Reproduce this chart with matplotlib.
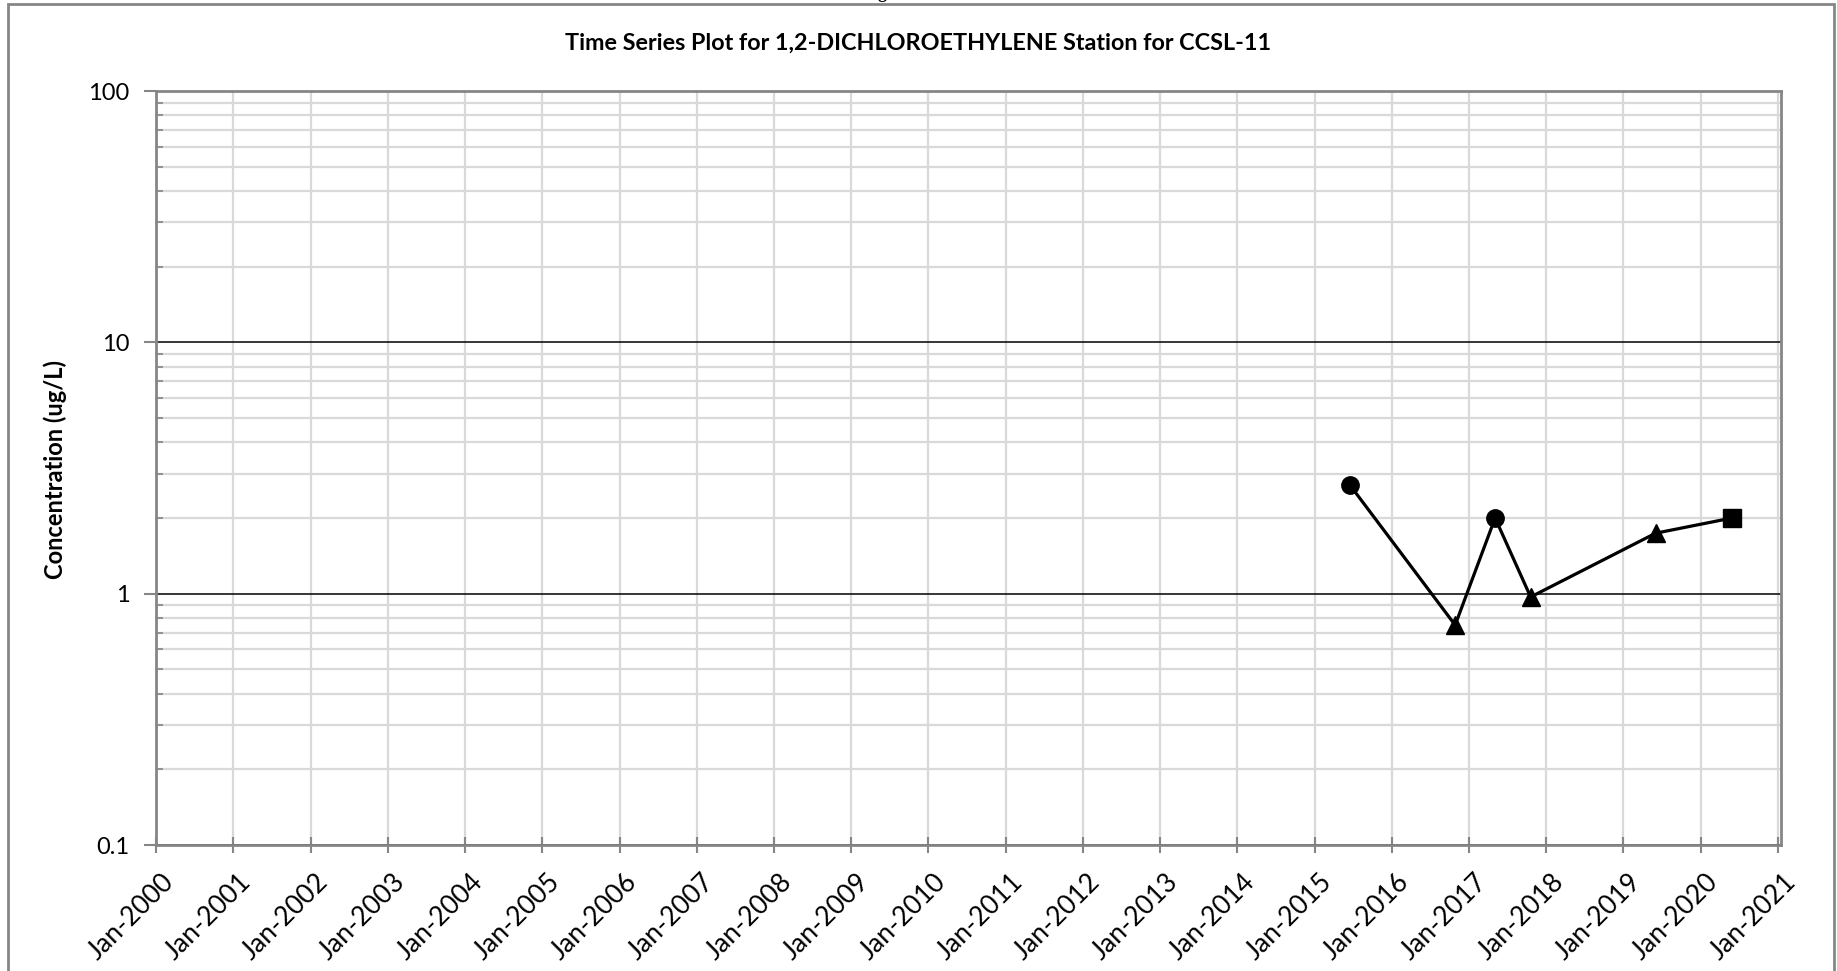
import matplotlib
matplotlib.use("Agg")
import matplotlib.pyplot as plt
import matplotlib.transforms as mtransforms
from matplotlib.ticker import LogLocator, FixedLocator, NullFormatter
from matplotlib.patches import Rectangle
import datetime as dt

# ---- data ----
title = "Time Series Plot for 1,2-DICHLOROETHYLENE Station for CCSL-11"
ylabel = "Concentration (ug/L)"
sample_dates = ["2015-06-18", "2016-10-27", "2017-05-04", "2017-10-19", "2019-06-02", "2020-05-28"]
concentrations = [2.70, 0.75, 2.0, 0.97, 1.74, 2.0]
point_kind = ["circle", "triangle", "circle", "triangle", "triangle", "square"]
year_ticks = list(range(2000, 2022))
y_ticks = [0.1, 1, 10, 100]
y_tick_labels = ["0.1", "1", "10", "100"]

marker_map = {"circle": "o", "triangle": "^", "square": "s"}

plt.rcParams["font.family"] = ["Lato", "DejaVu Sans"]

W, H = 1837, 971
fig = plt.figure(figsize=(W / 100, H / 100), dpi=100)
ax = fig.add_axes([156 / W, 1 - 845 / H, (1781 - 156) / W, (845 - 91) / H])

dates = [dt.datetime.strptime(d, "%Y-%m-%d") for d in sample_dates]
ax.plot(dates, concentrations, color="black", lw=2.3, zorder=4)
for d, v, k in zip(dates, concentrations, point_kind):
    ax.plot([d], [v], marker=marker_map[k], ms=12.5, color="black", ls="none", zorder=5)

ax.set_yscale("log")
ax.set_ylim(0.1, 100)
ax.set_xlim(dt.datetime(2000, 1, 1), dt.datetime(2021, 1, 15))

# x ticks
xt = [dt.datetime(y, 1, 1) for y in year_ticks]
ax.set_xticks(xt)
ax.tick_params(axis="x", which="major", direction="inout", length=11, width=1.5,
               color="#868686", pad=12, labelsize=19)
ax.set_xticklabels([f"Jan-{y}" for y in year_ticks], fontsize=19,
                   rotation=45, ha="right", va="top", rotation_mode="anchor")
shift = mtransforms.ScaledTranslation(5 / 100, 0, fig.dpi_scale_trans)
for lab in ax.get_xticklabels():
    lab.set_transform(lab.get_transform() + shift)

# y ticks
ax.yaxis.set_major_locator(FixedLocator(y_ticks))
ax.yaxis.set_minor_locator(LogLocator(base=10, subs=range(2, 10)))
ax.yaxis.set_minor_formatter(NullFormatter())
ax.tick_params(axis="y", which="major", direction="out", length=9, width=1.5,
               color="#868686", pad=10, labelsize=17)
ax.set_yticklabels(y_tick_labels, fontsize=17)
ax.tick_params(axis="y", which="minor", direction="in", length=5, width=1.2,
               color="#868686")

# grid
ax.grid(True, axis="x", which="major", color="#d9d9d9", lw=1.6, zorder=0)
ax.grid(True, axis="y", which="minor", color="#d9d9d9", lw=1.6, zorder=0)
ax.grid(True, axis="y", which="major", color="black", lw=1.1, zorder=1)
ax.set_axisbelow(True)

for s in ax.spines.values():
    s.set_color("#868686")
    s.set_linewidth(2.0)
    s.set_zorder(6)

fig.text(55 / W, 1 - 469 / H, ylabel, rotation=90, ha="center", va="center",
         fontsize=17, fontweight="bold")

fig.text(918 / W, 1 - 43 / H, title, ha="center", va="center",
         fontsize=16.8, fontweight="bold")

# partial cut-off text at the very top
fig.text(882 / W, 1 + 1.5 / H, "g", ha="center", va="baseline",
         fontsize=13, fontweight="bold", family="Liberation Serif")

# outer border
fig.patches.append(Rectangle((8 / W, -0.05), (1834 - 8) / W, 1.05 - 4 / H,
                             transform=fig.transFigure, fill=False,
                             edgecolor="#868686", lw=2.0, clip_on=False))

fig.savefig("out.png", dpi=100)
